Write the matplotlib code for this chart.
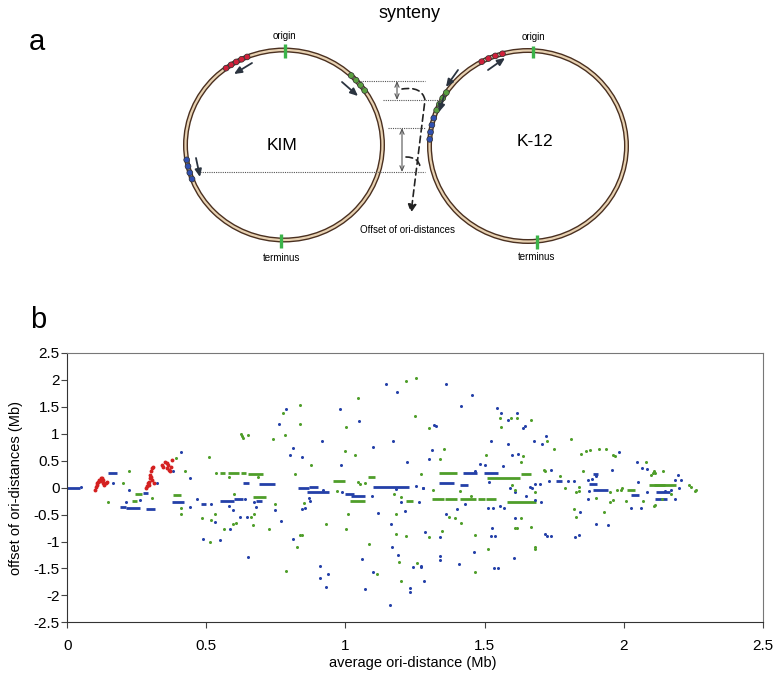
import matplotlib.pyplot as plt
import numpy as np
from matplotlib.patches import Ellipse, Circle, FancyArrowPatch
from matplotlib.path import Path

plt.rcParams['font.family'] = ['Liberation Sans', 'DejaVu Sans']

# ---- data for panel b (Mb) ----
red_x = [0.098, 0.103, 0.105, 0.111, 0.115, 0.12, 0.125, 0.129, 0.127, 0.141, 0.139, 0.131, 0.108, 0.117,
         0.283, 0.285, 0.289, 0.295, 0.297, 0.299, 0.302, 0.306, 0.308, 0.311, 0.303, 0.292, 0.301,
         0.339, 0.345, 0.351, 0.357, 0.363, 0.366, 0.368, 0.375, 0.36, 0.372]
red_y = [-0.05, 0.02, 0.08, 0.11, 0.14, 0.17, 0.18, 0.14, 0.09, 0.11, 0.09, 0.04, 0.05, 0.12,
         -0.01, 0.03, 0.08, 0.11, 0.17, 0.24, 0.3, 0.37, 0.39, 0.08, 0.14, 0.05, 0.2,
         0.42, 0.39, 0.47, 0.36, 0.42, 0.33, 0.3, 0.51, 0.45, 0.38]

blue_x = [0.048, 0.165, 0.223, 0.211, 0.261, 0.324, 0.38, 0.407, 0.44, 0.44, 0.465, 0.489, 0.518, 0.53,
          0.548, 0.582, 0.597, 0.585, 0.62, 0.638, 0.65, 0.645, 0.67, 0.677, 0.746, 0.76, 0.788, 0.77,
          0.802, 0.81, 0.842, 0.842, 0.81, 0.855, 0.87, 0.873, 0.916, 0.92, 0.908, 0.908, 0.937, 0.93,
          0.98, 0.985, 0.989, 1.048, 1.099, 1.097, 1.06, 1.1, 1.07, 1.117, 1.183, 1.145, 1.186, 1.17,
          1.165, 1.168, 1.19, 1.159, 1.198, 1.213, 1.221, 1.254, 1.264, 1.28, 1.243, 1.273, 1.233, 1.233,
          1.36, 1.455, 1.416, 1.32, 1.327, 1.31, 1.3, 1.522, 1.543, 1.56, 1.585, 1.615, 1.64, 1.645,
          1.679, 1.707, 1.585, 1.6, 1.62, 1.568, 1.484, 1.5, 1.467, 1.28, 1.665, 1.67, 1.68, 1.65, 1.68,
          1.61, 1.59, 1.7, 1.281, 1.273, 1.285, 1.34, 1.34, 1.34, 1.363, 1.4, 1.407, 1.428, 1.462, 1.512,
          1.53, 1.515, 1.528, 1.522, 1.536, 1.534, 1.548, 1.554, 1.57, 1.608, 1.606, 1.72, 1.74, 1.731,
          1.8, 1.82, 1.704, 1.982, 1.872, 1.886, 1.9, 1.876, 1.96, 1.872, 1.844, 1.9, 1.945, 1.716, 1.724,
          1.74, 1.827, 1.838, 2.05, 2.047, 2.066, 2.084, 2.083, 2.026, 2.062, 2.195, 2.185, 2.205, 2.2,
          2.147, 2.17, 2.186]
blue_y = [0.005, 0.09, -0.05, -0.26, -0.23, 0.09, 0.3, 0.66, 0.17, -0.35, -0.21, -0.96, -0.3, -0.64,
          -0.98, -0.34, -0.41, -0.77, -0.55, -0.21, -1.28, -0.54, -0.27, -0.35, -0.42, 1.18, 1.46, -0.61,
          0.61, 0.73, 0.57, -0.4, -0.96, -0.38, -0.2, -0.24, 0.86, -0.04, -1.45, -1.67, -1.6, -1.84,
          1.46, 0.42, -0.09, 1.24, 0.75, -0.15, -1.33, -1.56, -1.88, -0.47, -0.03, 1.92, 1.78, 0.86,
          -0.68, -1.11, -1.25, -2.17, -0.26, -0.43, 0.47, 0.03, -0.26, 0.0, -1.47, -1.47, -1.86, -1.93,
          1.92, 1.72, 1.52, 1.16, 1.14, 0.7, 0.53, 0.87, 1.47, 1.39, 1.26, 1.39, 1.1, 1.15,
          0.86, 0.81, 0.81, 0.6, 0.63, 0.4, 0.44, 0.42, 0.3, -0.01, 0.02, -0.01, 0.06, -0.15, -0.23,
          -0.09, 0.0, 0.07, -1.73, -1.46, -0.82, -0.92, -1.27, -1.34, -0.48, -0.4, -1.42, -0.31, -1.19, -0.37,
          -0.37, 0.11, -0.74, -0.9, -0.9, -1.49, -1.49, -0.34, -0.38, -0.57, -1.3, 0.95, 0.33, 0.12,
          0.13, 0.13, -0.26, 0.67, 0.14, 0.16, 0.21, -0.07, 0.33, -0.21, -0.45, -0.68, -0.69, -0.86, -0.9,
          -0.9, -0.92, -0.88, 0.1, 0.47, 0.37, 0.34, -0.09, -0.37, -0.37, 0.24, 0.14, 0.14, 0.0,
          -0.06, -0.04, -0.21]

# runs of adjacent genes: start, end, offset
blue_run_x0 = [0.0, 0.147, 0.19, 0.21, 0.273, 0.283, 0.378, 0.479, 0.549, 0.60, 0.632, 0.68, 0.69, 0.83,
               0.87, 0.86, 0.997, 1.02, 1.10, 1.336, 1.41, 1.422, 1.497, 1.758, 1.89, 1.876, 1.89, 2.026,
               2.115, 2.112]
blue_run_x1 = [0.045, 0.18, 0.21, 0.26, 0.291, 0.315, 0.42, 0.50, 0.60, 0.63, 0.654, 0.70, 0.746, 0.87,
               0.90, 0.94, 1.03, 1.07, 1.23, 1.392, 1.44, 1.473, 1.548, 1.78, 1.907, 1.904, 1.943, 2.057,
               2.165, 2.156]
blue_run_y = [0.0, 0.27, -0.35, -0.37, -0.10, -0.40, -0.27, -0.31, -0.24, -0.22, 0.09, -0.25, 0.06, 0.0,
              0.01, -0.09, -0.12, -0.15, 0.02, 0.08, 0.04, 0.27, 0.27, 0.13, 0.25, 0.06, -0.05, -0.14,
              -0.09, -0.21]

green_x = [0.147, 0.2, 0.223, 0.303, 0.39, 0.407, 0.407, 0.423, 0.483, 0.512, 0.51, 0.516, 0.53, 0.533,
           0.582, 0.6, 0.597, 0.606, 0.564, 0.626, 0.628, 0.63, 0.648, 0.66, 0.67, 0.668, 0.685, 0.726,
           0.738, 0.746, 0.776, 0.782, 0.785, 0.82, 0.838, 0.835, 0.824, 0.836, 0.85, 0.845, 0.875, 0.93,
           0.97, 1.003, 1.0, 1.033, 1.045, 1.01, 1.003, 1.045, 1.054, 1.07, 1.083, 1.115, 1.174, 1.18,
           1.191, 1.18, 1.2, 1.216, 1.216, 1.255, 1.25, 1.27, 1.257, 1.2, 1.3, 1.356, 1.34, 1.554, 1.56,
           1.594, 1.615, 1.668, 1.64, 1.63, 1.506, 1.315, 1.41, 1.45, 1.68, 1.6, 1.61, 1.712, 1.3, 1.348,
           1.373, 1.393, 1.414, 1.466, 1.465, 1.512, 1.63, 1.608, 1.618, 1.668, 1.68, 1.68, 1.724, 1.749,
           1.811, 1.716, 1.773, 1.79, 1.845, 1.865, 1.88, 1.91, 1.937, 1.963, 1.97, 1.854, 1.84, 1.84,
           1.83, 1.95, 1.975, 1.993, 1.99, 1.9, 1.95, 1.962, 1.823, 1.83, 1.931, 2.082, 2.1, 2.105, 2.11,
           2.14, 2.07, 2.11, 2.01, 2.114, 2.113, 2.17, 2.234, 2.243, 2.255, 2.26, 2.137]
green_y = [-0.27, 0.09, 0.3, -0.19, 0.55, -0.38, -0.49, 0.3, -0.56, -1.01, 0.56, -0.6, -0.49, 0.27,
           0.19, -0.12, -0.68, -0.66, -0.76, 1.0, 0.95, 0.92, 0.97, -0.54, -0.48, -0.69, 0.19, -0.76,
           0.9, -0.31, 1.38, 0.97, -1.55, 0.25, 1.54, 1.18, -1.11, -0.88, -0.28, -0.88, 0.42, -0.68,
           -0.07, 1.13, 0.68, 0.61, 1.67, -0.49, -0.76, 0.11, 0.06, 0.08, -1.05, -1.6, -0.12, -0.86,
           -1.38, -0.49, -0.17, -0.89, 1.98, 2.04, 1.33, 0.25, -1.39, -1.74, 1.1, 0.71, 0.53, 1.3, 1.12,
           1.3, 1.3, 1.26, 0.58, 0.48, 0.6, -0.04, -0.06, -0.15, -0.09, 0.05, -0.05, 0.32, -0.92, -0.8,
           -0.55, -0.57, -0.65, -0.87, -1.56, -1.13, -0.57, -0.74, -0.74, -0.73, -1.1, -1.14, 0.86, 0.71,
           0.9, 0.31, 0.22, 0.0, 0.62, 0.68, 0.7, 0.71, 0.72, 0.61, 0.58, 0.31, 0.02, -0.07,
           -0.09, -0.09, -0.04, 0.0, -0.05, -0.2, -0.26, -0.23, -0.4, -0.54, -0.46, 0.47, 0.23, 0.28, 0.31,
           0.31, -0.24, -0.34, -0.25, 0.28, -0.33, -0.12, 0.05, 0.02, -0.06, -0.04, -0.21]

green_run_x0 = [0.231, 0.245, 0.38, 0.549, 0.579, 0.624, 0.65, 0.666, 0.955, 1.015, 1.08, 1.219, 1.335,
                1.312, 1.358, 1.41, 1.475, 1.505, 1.51, 1.58, 1.632, 2.012, 2.093, 2.111]
green_run_x1 = [0.252, 0.267, 0.41, 0.567, 0.619, 0.642, 0.704, 0.714, 0.997, 1.07, 1.105, 1.243, 1.40,
                1.355, 1.40, 1.47, 1.50, 1.54, 1.626, 1.686, 1.666, 2.04, 2.147, 2.189]
green_run_y = [-0.24, -0.12, -0.14, 0.27, 0.27, 0.27, 0.25, -0.17, 0.12, -0.24, 0.19, -0.24, 0.27,
               -0.21, -0.21, -0.21, -0.21, -0.21, 0.17, -0.26, 0.25, -0.05, 0.04, 0.05]

xtick_vals = [0, 0.5, 1, 1.5, 2, 2.5]
xtick_labels = ['0', '0.5', '1', '1.5', '2', '2.5']
ytick_vals = [-2.5, -2, -1.5, -1, -0.5, 0, 0.5, 1, 1.5, 2, 2.5]
ytick_labels = ['-2.5', '-2', '-1.5', '-1', '-0.5', '0', '0.5', '1', '1.5', '2', '2.5']

BLUE = '#2440a8'
GREEN = '#4f9e2a'
RED = '#d42020'

fig = plt.figure(figsize=(7.79, 6.81), dpi=100)

# ---- panel a: diagram drawn in pixel coordinates ----
dg = fig.add_axes([0, 0, 1, 1])
dg.set_xlim(0, 779)
dg.set_ylim(681, 0)
dg.axis('off')

circles = {'KIM': (284, 145, 197, 190), 'K-12': (528, 146, 197, 191)}
for name, (cx, cy, w, h) in circles.items():
    dg.add_patch(Ellipse((cx, cy), w, h, fill=False, ec='#4a3020', lw=3.6))
    dg.add_patch(Ellipse((cx, cy), w, h, fill=False, ec='#e8d2b2', lw=1.6))


def beads(c, a0, a1, n, col):
    cx, cy, w, h = circles[c]
    for a in np.linspace(a0, a1, n):
        t = np.radians(a)
        dg.add_patch(Circle((cx + w / 2 * np.cos(t), cy - h / 2 * np.sin(t)), 2.9,
                            fc=col, ec='#333333', lw=0.5, zorder=3))


beads('KIM', 112, 126, 5, '#d0203a')
beads('KIM', 35, 47, 4, '#5aa040')
beads('KIM', 189, 201, 4, '#3050b0')
beads('K-12', 105, 118, 4, '#d0203a')
beads('K-12', 146, 158, 4, '#5aa040')
beads('K-12', 163, 176, 4, '#3050b0')

# green origin / terminus marks
for (x, y0, y1) in [(285, 44, 58), (281, 234, 248), (533, 46, 58), (537, 235, 249)]:
    dg.plot([x, x], [y0, y1], color='#3cb44a', lw=2.4, solid_capstyle='butt', zorder=4)

# direction arrows near gene clusters
for (x0, y0, x1, y1) in [(252, 63, 234, 74), (342, 82, 358, 96), (196, 158, 200, 177),
                         (488, 70, 505, 58), (458, 70, 446, 87), (444, 96, 439, 112)]:
    dg.annotate('', xy=(x1, y1), xytext=(x0, y0),
                arrowprops=dict(arrowstyle='-|>,head_length=0.45,head_width=0.2', color='#2b3440', lw=1.3,
                                shrinkA=0, shrinkB=0))

# dotted guide lines
for (x0, x1, y) in [(360, 425, 81), (383, 440, 100), (388, 425, 128), (200, 425, 172)]:
    dg.plot([x0, x1], [y, y], color='#555555', lw=0.8, ls=(0, (1, 1)))

for (x, y0, y1) in [(397, 81, 100), (402, 128, 172)]:
    dg.annotate('', xy=(x, y0), xytext=(x, y1),
                arrowprops=dict(arrowstyle='<->,head_length=0.35,head_width=0.15', color='#555555', lw=0.8,
                                shrinkA=0, shrinkB=0))

p1 = Path([(402, 89), (422, 86), (425, 100), (411, 213)],
          [Path.MOVETO, Path.CURVE3, Path.CURVE3, Path.LINETO])
dg.add_patch(FancyArrowPatch(path=p1, arrowstyle='-|>,head_length=5,head_width=2.5',
                             color='#222222', lw=1.2, ls=(0, (4, 2.5))))
p2 = Path([(406, 157), (419, 157), (420, 167)], [Path.MOVETO, Path.CURVE3, Path.CURVE3])
dg.add_patch(FancyArrowPatch(path=p2, arrowstyle='-', color='#222222', lw=1.2, ls=(0, (4, 2.5))))

dg.text(410, 13, 'synteny', fontsize=13, ha='center', va='center')
dg.text(37, 42, 'a', fontsize=21, ha='center', va='center')
dg.text(38, 320, 'b', fontsize=21, ha='center', va='center')
dg.text(284, 36, 'origin', fontsize=7, ha='center', va='center')
dg.text(282, 258, 'terminus', fontsize=7, ha='center', va='center')
dg.text(533, 37, 'origin', fontsize=7, ha='center', va='center')
dg.text(537, 257, 'terminus', fontsize=7, ha='center', va='center')
dg.text(282, 146, 'KIM', fontsize=12.5, ha='center', va='center')
dg.text(535, 142, 'K-12', fontsize=12.5, ha='center', va='center')
dg.text(408, 230, 'Offset of ori-distances', fontsize=7, ha='center', va='center')
dg.text(413, 663, 'average ori-distance (Mb)', fontsize=10.5, ha='center', va='center')
dg.text(16, 488, 'offset of ori-distances (Mb)', fontsize=10.5, ha='center', va='center', rotation=90)

# ---- panel b: scatter ----
ax = fig.add_axes([67.3 / 779, (681 - 622.3) / 681, (762.7 - 67.3) / 779, (622.3 - 353) / 681])
ax.hlines(blue_run_y, blue_run_x0, blue_run_x1, colors=BLUE, lw=2.0)
ax.hlines(green_run_y, green_run_x0, green_run_x1, colors=GREEN, lw=2.0)
ax.plot(blue_x, blue_y, 'o', color=BLUE, ms=2.2, mew=0)
ax.plot(green_x, green_y, 'o', color=GREEN, ms=2.2, mew=0)
ax.plot(red_x, red_y, 'o', color=RED, ms=2.8, mew=0)

ax.set_xlim(0, 2.5)
ax.set_ylim(-2.5, 2.5)
ax.set_xticks(xtick_vals)
ax.set_xticklabels(xtick_labels, fontsize=11)
ax.set_yticks(ytick_vals)
ax.set_yticklabels(ytick_labels, fontsize=11)
ax.tick_params(axis='x', direction='out', length=4, pad=8, color='#444444')
ax.tick_params(axis='y', direction='out', length=4, pad=1.5, color='#444444')
for s in ['left', 'bottom']:
    ax.spines[s].set_color('#333333')
for s in ['top', 'right']:
    ax.spines[s].set_color('#777777')

plt.savefig('out.png', dpi=100)
